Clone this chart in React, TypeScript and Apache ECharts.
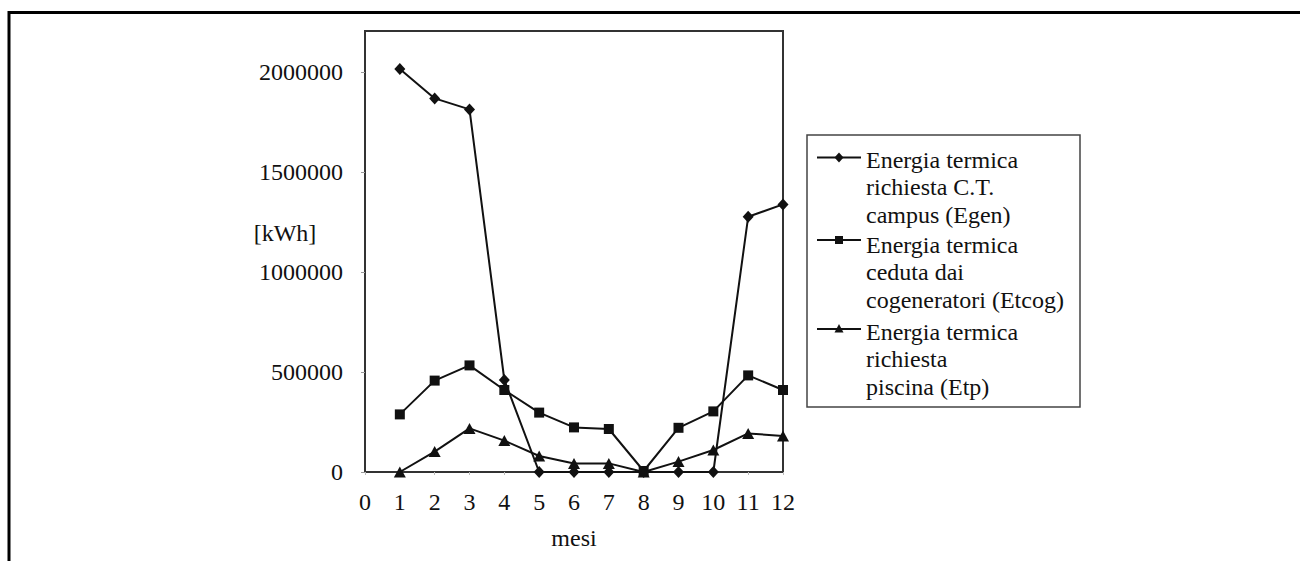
import React, { useEffect, useRef } from "react";
import * as echarts from "echarts";

const months = [1, 2, 3, 4, 5, 6, 7, 8, 9, 10, 11, 12];
const egen = [2015000, 1868000, 1813000, 460000, 0, 0, 0, 0, 0, 0, 1276000, 1338000];
const etcog = [288000, 457000, 533000, 410000, 297000, 223000, 215000, 5000, 221000, 303000, 483000, 410000];
const etp = [0, 102000, 218000, 157000, 80000, 43000, 43000, 0, 52000, 110000, 193000, 180000];
const yTicks = [0, 500000, 1000000, 1500000, 2000000];
const xTicks = [0, 1, 2, 3, 4, 5, 6, 7, 8, 9, 10, 11, 12];
const seriesNames = [
  "Energia termica\nrichiesta C.T.\ncampus (Egen)",
  "Energia termica\nceduta dai\ncogeneratori (Etcog)",
  "Energia termica\nrichiesta\npiscina (Etp)",
];
const xAxisTitle = "mesi";
const yAxisTitle = "[kWh]";

const FONT = '"Liberation Serif", "Times New Roman", serif';
const INK = "#111";

export default function App() {
  const ref = useRef<HTMLDivElement>(null);

  useEffect(() => {
    if (!ref.current) return;
    const chart = echarts.init(ref.current, null, { renderer: "svg" });

    const legendRows = [157.5, 240, 329];
    const legendTextTop = [146, 231, 318];
    const legendSymbols = ["diamond", "rect", "triangle"];

    const legendGraphics: any[] = [
      {
        type: "rect",
        shape: { x: 807, y: 135, width: 273, height: 272 },
        style: { fill: "#fff", stroke: "#444", lineWidth: 1.5 },
        z: 10,
      },
    ];
    legendRows.forEach((y, i) => {
      legendGraphics.push({
        type: "line",
        shape: { x1: 817, y1: y, x2: 861, y2: y },
        style: { stroke: INK, lineWidth: 2 },
        z: 11,
      });
      const cx = 839;
      if (legendSymbols[i] === "diamond") {
        legendGraphics.push({
          type: "polygon",
          shape: { points: [[cx, y - 5], [cx + 4.5, y], [cx, y + 5], [cx - 4.5, y]] },
          style: { fill: INK },
          z: 12,
        });
      } else if (legendSymbols[i] === "rect") {
        legendGraphics.push({
          type: "rect",
          shape: { x: cx - 4, y: y - 4, width: 8, height: 8 },
          style: { fill: INK },
          z: 12,
        });
      } else {
        legendGraphics.push({
          type: "polygon",
          shape: { points: [[cx, y - 5], [cx + 4.5, y + 3.5], [cx - 4.5, y + 3.5]] },
          style: { fill: INK },
          z: 12,
        });
      }
      legendGraphics.push({
        type: "text",
        x: 866,
        y: legendTextTop[i],
        style: {
          text: seriesNames[i],
          font: `24px ${FONT}`,
          fill: INK,
          lineHeight: 27.5,
          textVerticalAlign: "top",
        },
        z: 12,
      });
    });

    const mk = (vals: number[], symbol: string, size: any, name: string) => ({
      type: "line",
      name,
      data: months.map((m, i) => [m, vals[i]]),
      symbol,
      symbolSize: size,
      showAllSymbol: true,
      lineStyle: { color: INK, width: 2 },
      itemStyle: { color: INK },
      z: 5,
    });

    chart.setOption({
      animation: false,
      backgroundColor: "#fff",
      grid: {
        left: 365,
        right: 517,
        top: 31,
        bottom: 89,
        show: true,
        borderColor: "#333",
        borderWidth: 2,
        backgroundColor: "transparent",
      },
      xAxis: {
        type: "value",
        min: 0,
        max: 12,
        interval: 1,
        name: xAxisTitle,
        nameLocation: "middle",
        nameGap: 54,
        nameTextStyle: { fontFamily: FONT, fontSize: 24, color: INK },
        axisLine: { show: true, lineStyle: { color: "#333", width: 2 } },
        axisTick: { show: true, length: 3, lineStyle: { color: "#bbb", width: 1 } },
        axisLabel: {
          customValues: xTicks,
          margin: 18,
          fontFamily: FONT,
          fontSize: 24,
          color: INK,
        },
        splitLine: { show: false },
      },
      yAxis: {
        type: "value",
        min: 0,
        max: 2205000,
        interval: 500000,
        axisLine: { show: true, lineStyle: { color: "#333", width: 2 } },
        axisTick: {
          show: true,
          length: 4,
          customValues: yTicks,
          lineStyle: { color: "#999", width: 1 },
        },
        axisLabel: {
          customValues: yTicks,
          margin: 22,
          fontFamily: FONT,
          fontSize: 24,
          color: INK,
          formatter: (v: number) => (yTicks.indexOf(v) >= 0 ? String(v) : ""),
        },
        splitLine: { show: false },
      },
      series: [
        mk(egen, "diamond", [11, 12], seriesNames[0]),
        mk(etcog, "rect", 10, seriesNames[1]),
        mk(etp, "triangle", [12, 11], seriesNames[2]),
      ],
      graphic: [
        {
          type: "line",
          shape: { x1: 9, y1: 12.5, x2: 1300, y2: 12.5 },
          style: { stroke: "#000", lineWidth: 3 },
        },
        {
          type: "line",
          shape: { x1: 9, y1: 11, x2: 9, y2: 561 },
          style: { stroke: "#000", lineWidth: 3 },
        },
        {
          type: "text",
          x: 285,
          y: 233,
          style: {
            text: yAxisTitle,
            font: `24px ${FONT}`,
            fill: INK,
            textAlign: "center",
            textVerticalAlign: "middle",
          },
        },
        ...legendGraphics,
      ],
    });

    return () => chart.dispose();
  }, []);

  return (
    <div
      ref={ref}
      style={{ position: "fixed", left: 0, top: 0, width: 1300, height: 561, background: "#fff" }}
    />
  );
}
